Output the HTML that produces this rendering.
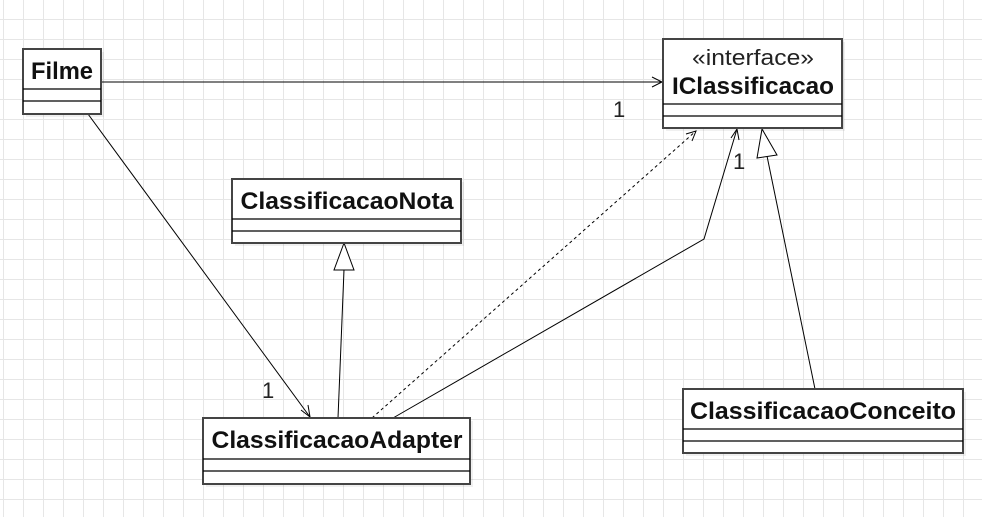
<!DOCTYPE html>
<html><head><meta charset="utf-8"><style>
html,body{margin:0;padding:0;}
body{width:982px;height:517px;overflow:hidden;background:#fff;
background-image:linear-gradient(to right,#e6e6e6 1px,transparent 1px),linear-gradient(to bottom,#e6e6e6 1px,transparent 1px);
background-size:20px 20px;background-position:3px 19px;font-family:"Liberation Sans",sans-serif;}
</style></head><body>
<svg width="982" height="517" style="position:absolute;left:0;top:0" font-family="Liberation Sans, sans-serif">
<g fill="#000" fill-opacity="0.06">
<rect x="26" y="52" width="78" height="65"/><rect x="666" y="42" width="179" height="89"/>
<rect x="235" y="182" width="229" height="64"/><rect x="206" y="421" width="267" height="66"/>
<rect x="686" y="392" width="280" height="64"/>
</g>
<g stroke="#000" stroke-width="1" fill="none">
<line x1="101" y1="82" x2="662" y2="82"/><polyline points="652,77 662,82 652,87"/>
<line x1="88" y1="114" x2="310" y2="417"/><polyline points="301,410 310,417 308,405"/>
<line x1="338" y1="418" x2="344" y2="270"/><polygon points="344,243 334,270 354,270" fill="#fff"/>
<line x1="372" y1="418" x2="696" y2="131" stroke-dasharray="3,3"/><polyline points="686,134 696,131 692,141"/>
<polyline points="393,418 704,239 737,129"/><polyline points="731,138 737,129 739,140"/>
<line x1="815" y1="389" x2="767" y2="156"/><polygon points="762,129 757,158 777,155" fill="#fff"/>
</g>
<g fill="#fff" stroke="#444" stroke-width="2">
<rect x="23" y="49" width="78" height="65"/><rect x="663" y="39" width="179" height="89"/>
<rect x="232" y="179" width="229" height="64"/><rect x="203" y="418" width="267" height="66"/>
<rect x="683" y="389" width="280" height="64"/>
</g>
<g stroke="#000" stroke-width="1.2">
<line x1="23" y1="89" x2="101" y2="89"/><line x1="23" y1="101" x2="101" y2="101"/>
<line x1="663" y1="104" x2="842" y2="104"/><line x1="663" y1="116" x2="842" y2="116"/>
<line x1="232" y1="219" x2="461" y2="219"/><line x1="232" y1="231" x2="461" y2="231"/>
<line x1="203" y1="459" x2="470" y2="459"/><line x1="203" y1="471" x2="470" y2="471"/>
<line x1="683" y1="429" x2="963" y2="429"/><line x1="683" y1="441" x2="963" y2="441"/>
</g>
<g font-weight="bold" font-size="24" text-anchor="middle" fill="#111">
<text x="62" y="79" textLength="62" lengthAdjust="spacingAndGlyphs">Filme</text>
<text x="753" y="94" textLength="162" lengthAdjust="spacingAndGlyphs">IClassificacao</text>
<text x="347" y="209" textLength="213" lengthAdjust="spacingAndGlyphs">ClassificacaoNota</text>
<text x="337" y="448" textLength="251" lengthAdjust="spacingAndGlyphs">ClassificacaoAdapter</text>
<text x="823" y="419" textLength="266" lengthAdjust="spacingAndGlyphs">ClassificacaoConceito</text>
</g>
<text x="753" y="65" font-size="22" text-anchor="middle" fill="#222" textLength="122" lengthAdjust="spacingAndGlyphs">«interface»</text>
<g font-size="22" fill="#222"><text x="613" y="117">1</text><text x="262" y="398">1</text><text x="733" y="169">1</text></g>
</svg>
</body></html>
